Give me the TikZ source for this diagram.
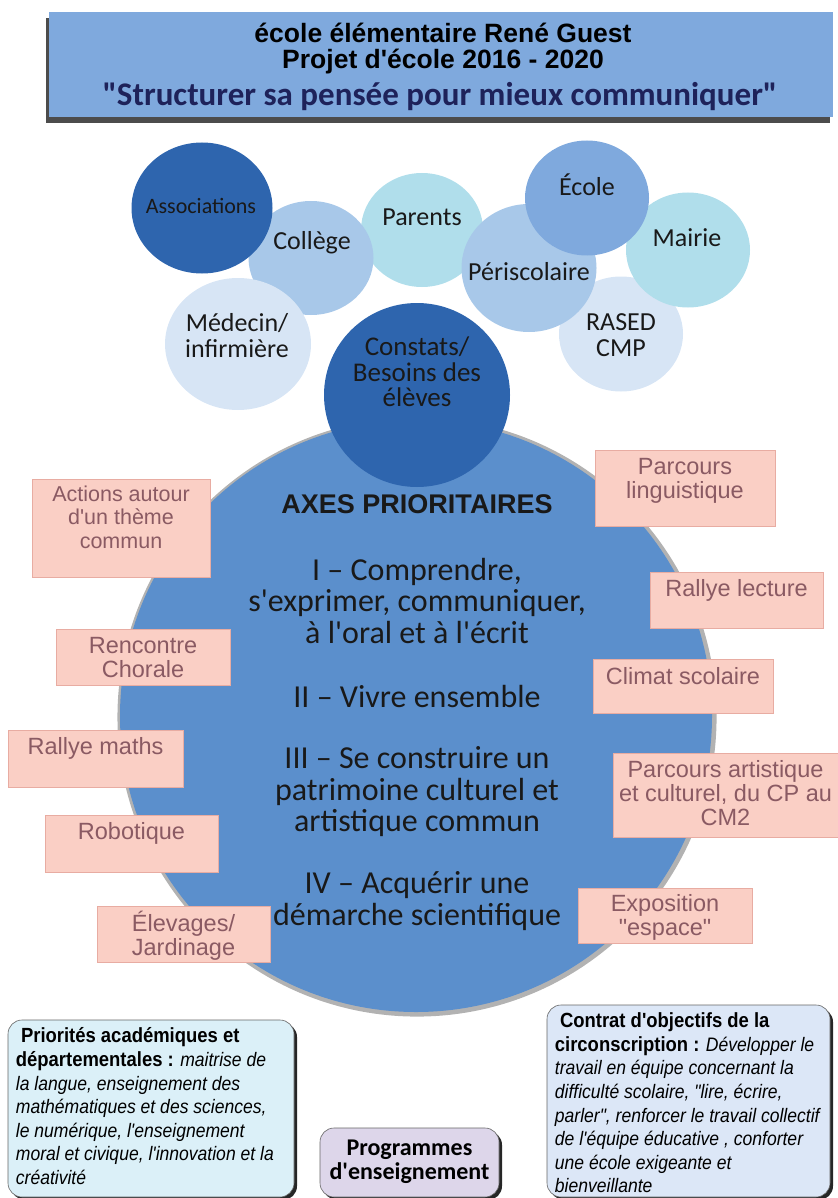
\documentclass[tikz,border=0pt]{standalone}
\usepackage{fontspec}
\setmainfont{Carlito}[Ligatures=TeXOff]
\newfontfamily\arialfont{Liberation Sans}[Ligatures=TeXOff]
\newfontfamily\narrowfont{Liberation Sans}[FakeStretch=0.9,Ligatures=TeXOff]
\usetikzlibrary{shapes.geometric,shapes.misc,shadows,positioning}

\definecolor{deepblue}{RGB}{46,101,174}
\definecolor{axesblue}{RGB}{91,143,204}
\definecolor{softblue}{RGB}{127,169,221}
\definecolor{paleblue}{RGB}{168,200,233}
\definecolor{palecyan}{RGB}{176,222,235}
\definecolor{mistblue}{RGB}{215,229,245}
\definecolor{pinkfill}{RGB}{250,207,197}
\definecolor{pinkedge}{RGB}{232,172,162}
\definecolor{pinkink}{RGB}{138,90,99}
\definecolor{navyink}{RGB}{30,34,90}
\definecolor{icefill}{RGB}{219,240,248}
\definecolor{lilacfill}{RGB}{221,214,234}
\definecolor{skyfill}{RGB}{220,231,247}

\newcommand{\notehead}[1]{{\upshape\bfseries\fontsize{20.5}{23.6}\selectfont #1}}

\tikzset{
  titlebox/.style={fill=softblue, inner sep=0pt,
    drop shadow={shadow xshift=-3pt, shadow yshift=-6pt, fill=black!70, opacity=1}},
  bubble/.style={ellipse, inner sep=0pt, draw=none},
  bubbletext/.style={font=\fontsize{26}{26}\selectfont, align=center, text=black!90, inner sep=0pt},
  axestext/.style={font=\fontsize{32}{31.5}\selectfont, align=center, text=black!90},
  actionbox/.style={chamfered rectangle, chamfered rectangle sep=6pt,
    fill=pinkfill, draw=pinkedge, line width=0.8pt, inner sep=0pt},
  actiontext/.style={font=\arialfont\fontsize{23.5}{24}\selectfont, text=pinkink, align=center, inner sep=2pt},
  notebox/.style={rounded corners=14pt, draw=black!60, line width=0.6pt, inner sep=0pt,
    drop shadow={shadow xshift=3pt, shadow yshift=-3pt, fill=black!85, opacity=1}},
  notetext/.style={font=\narrowfont\itshape\fontsize{19.5}{23.6}\selectfont, align=left, inner sep=0pt},
}

\begin{document}
\begin{tikzpicture}[x=1pt,y=-1pt]
\useasboundingbox (0,0) rectangle (837,1198);

% title
\node[titlebox, minimum width=784pt, minimum height=105pt] (title) at (441,64.5) {};
\node[font=\arialfont\bfseries\fontsize{26.5}{28}\selectfont] (school) at (443,33) {école élémentaire René Guest};
\node[font=\arialfont\bfseries\fontsize{26.5}{28}\selectfont] (project) at (443,62) {Projet d'école 2016 - 2020};
\node[font=\bfseries\fontsize{33}{34}\selectfont, text=navyink] (motto) at (440,97) {"Structurer sa pensée pour mieux communiquer"};

% partners
\node[bubble, fill=palecyan, minimum width=122pt, minimum height=114pt] (parents) at (422,230) {};
\node[bubble, fill=paleblue, minimum width=125pt, minimum height=114pt] (college) at (311,258) {};
\node[bubble, fill=deepblue, minimum width=141pt, minimum height=131pt] (assoc) at (202,208) {};
\node[bubble, fill=mistblue, minimum width=146pt, minimum height=132pt] (medecin) at (238,344) {};
\node[bubble, fill=mistblue, minimum width=124pt, minimum height=115pt] (rased) at (621,334) {};
\node[bubble, fill=palecyan, minimum width=124pt, minimum height=115pt] (mairie) at (688,250) {};
\node[bubble, fill=paleblue, minimum width=135pt, minimum height=128pt] (peri) at (529,268) {};
\node[bubble, fill=softblue, minimum width=124pt, minimum height=115pt] (ecole) at (587,198) {};

\node[bubbletext, font=\fontsize{22}{22}\selectfont] (assocT) at (201,206) {Associations};
\node[bubbletext] (collegeT) at (312,243) {Collège};
\node[bubbletext] (parentsT) at (422,217) {Parents};
\node[bubbletext] (medecinT) at (237,336) {Médecin/\\infirmière};
\node[bubbletext] (periT) at (529,272) {Périscolaire};
\node[bubbletext] (ecoleT) at (587,185) {École};
\node[bubbletext] (mairieT) at (687,238) {Mairie};
\node[bubbletext] (rasedT) at (621,335) {RASED\\CMP};

% axes
\node[circle, fill=axesblue, minimum size=592pt, inner sep=0pt,
  drop shadow={shadow xshift=1pt, shadow yshift=-1pt, shadow scale=1.012, fill=black, opacity=0.3}] (axes) at (416,716) {};
\node[bubble, fill=deepblue, minimum width=186pt, minimum height=184pt] (constats) at (417,395) {};
\node[bubbletext, font=\fontsize{27}{25.5}\selectfont] (constatsT) at (417,372) {Constats/\\Besoins des\\élèves};

\node[font=\arialfont\bfseries\fontsize{27}{28}\selectfont, text=black!90] (axesT) at (417,504) {AXES PRIORITAIRES};
\node[axestext] (axeI) at (417,601) {I – Comprendre,\\s'exprimer, communiquer,\\à l'oral et à l'écrit};
\node[axestext] (axeII) at (417,697) {II – Vivre ensemble};
\node[axestext] (axeIII) at (417,792) {III – Se construire un\\patrimoine culturel et\\artistique commun};
\node[axestext] (axeIV) at (417,901) {IV – Acquérir une\\démarche scientifique};

% actions, left
\node[actionbox, minimum width=178pt, minimum height=98pt] (actions) at (121,528) {};
\node[actiontext, font=\arialfont\fontsize{21.5}{23.5}\selectfont, below=5pt of actions.north] (actionsT) {Actions autour\\d'un thème\\commun};
\node[actionbox, minimum width=174pt, minimum height=56pt] (chorale) at (143,657) {};
\node[actiontext, below=7pt of chorale.north] (choraleT) {Rencontre\\Chorale};
\node[actionbox, minimum width=175pt, minimum height=57pt] (maths) at (95.5,758.5) {};
\node[actiontext, below=6pt of maths.north] (mathsT) {Rallye maths};
\node[actionbox, minimum width=173pt, minimum height=57pt] (robot) at (131.5,843.5) {};
\node[actiontext, below=6pt of robot.north] (robotT) {Robotique};
\node[actionbox, minimum width=173pt, minimum height=56pt] (elevage) at (183.5,934) {};
\node[actiontext, below=3pt of elevage.north] (elevageT) {Élevages/\\Jardinage};

% actions, right
\node[actionbox, minimum width=180pt, minimum height=76pt] (lingua) at (685,488) {};
\node[actiontext, below=7pt of lingua.north] (linguaT) {Parcours\\linguistique};
\node[actionbox, minimum width=173pt, minimum height=56pt] (lecture) at (736.5,600) {};
\node[actiontext, below=6pt of lecture.north] (lectureT) {Rallye lecture};
\node[actionbox, minimum width=180pt, minimum height=54pt] (climat) at (683,686) {};
\node[actiontext, below=7pt of climat.north] (climatT) {Climat scolaire};
\node[actionbox, minimum width=225pt, minimum height=84pt] (artiste) at (725.5,795) {};
\node[actiontext, below=6pt of artiste.north] (artisteT) {Parcours artistique\\et culturel, du CP au\\CM2};
\node[actionbox, minimum width=174pt, minimum height=55pt] (espace) at (665,915.5) {};
\node[actiontext, below=5pt of espace.north] (espaceT) {Exposition\\"espace"};

% frames
\node[notebox, fill=icefill, minimum width=286pt, minimum height=177pt] (prio) at (151,1108.5) {};
\node[notetext, anchor=north west] (prioT) at ([xshift=8pt,yshift=-8pt]prio.north west)
  {\notehead{\ Priorités académiques et}\\
   \notehead{départementales :} maitrise de\\
   la langue, enseignement des\\
   mathématiques et des sciences,\\
   le numérique, l'enseignement\\
   moral et civique, l'innovation et la\\
   créativité};
\node[notebox, fill=lilacfill, minimum width=179pt, minimum height=69pt] (progs) at (409.5,1162.5) {};
\node[notetext, align=center, font=\bfseries\fontsize{24}{23.5}\selectfont] (progsT) at ([yshift=1pt]progs.center) {Programmes\\d'enseignement};
\node[notebox, fill=skyfill, minimum width=283pt, minimum height=192pt] (contrat) at (688.5,1101) {};
\node[notetext, anchor=north west] (contratT) at ([xshift=8pt,yshift=-8pt]contrat.north west)
  {\notehead{\ Contrat d'objectifs de la}\\
   \notehead{circonscription :} Développer le\\
   travail en équipe concernant la\\
   difficulté scolaire, "lire, écrire,\\
   parler", renforcer le travail collectif\\
   de l'équipe éducative , conforter\\
   une école exigeante et\\
   bienveillante};
\end{tikzpicture}
\end{document}
